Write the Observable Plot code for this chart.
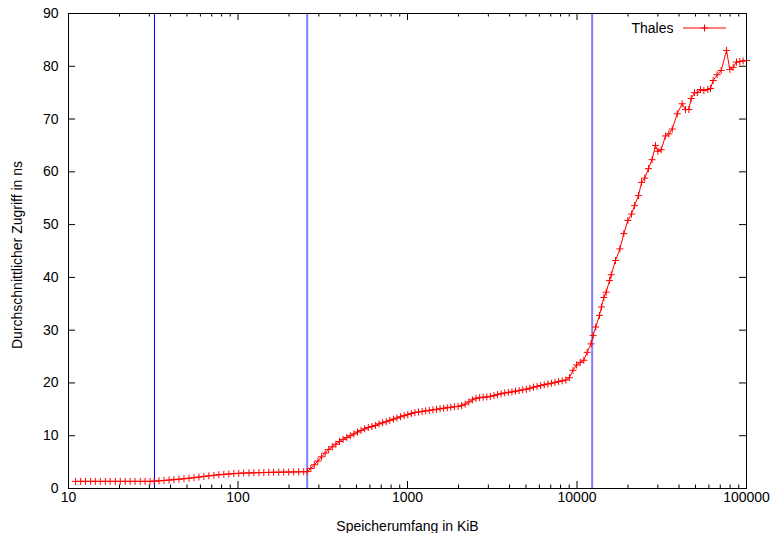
<!DOCTYPE html>
<html><head><meta charset="utf-8">
<script src="https://cdn.jsdelivr.net/npm/d3@7"></script>
<script src="https://cdn.jsdelivr.net/npm/@observablehq/plot@0.6"></script>
<style>html,body{margin:0;padding:0;background:#fff}</style>
</head><body><div id="chart"></div>
<script>
const seriesName = "Thales";
const xLabel = "Speicherumfang in KiB";
const yLabel = "Durchschnittlicher Zugriff in ns";

const sizeKiB = [
  11, 11.8, 12.6, 13.5, 14.4, 15.4, 16.5, 17.6, 18.9, 20.2, 21.6, 23.1, 24.7, 26.5, 28.3, 30.3, 32,
  34.2, 36.6, 39.2, 41.9, 44.9, 48, 51.4, 55, 58.8, 62.9, 67.3, 72.1, 77.1, 82.5, 88.3, 94.5, 101, 108, 116, 124,
  133, 142, 152, 162, 174, 186, 199, 213, 228, 244, 256,
  269, 282, 296, 311, 327, 343, 360, 378, 397, 417, 438, 460, 483, 507, 532, 559, 587, 616, 647, 679,
  713, 749, 786, 826, 867, 910, 956, 1004, 1054, 1106, 1162, 1220, 1281, 1345, 1412, 1483, 1557, 1635, 1716, 1802,
  1892, 1987, 2086, 2191, 2300, 2415, 2536, 2663, 2796, 2936, 3082, 3237, 3398, 3568, 3747, 3934, 4131, 4337, 4554, 4782,
  5021, 5272, 5536, 5812, 6103, 6408, 6729, 7065, 7418, 7789, 8179, 8588, 9017, 9468, 9941,
  10450, 10970, 11480, 12100, 12450, 12900, 13570, 13950, 14400, 14870, 15560, 15920, 16870, 17910, 18890, 19960, 20980, 21850, 23050, 24030,
  25100, 26400, 27730, 29040, 29970, 31380, 33270, 34830, 36470, 39020, 41720, 43650, 45700, 47190, 49370, 51200, 53540, 56040, 59110, 61340,
  63600, 67110, 70910, 76260, 79690, 83430, 87270, 91300, 95490, 100000
];
const accessNs = [
  1.35, 1.35, 1.35, 1.35, 1.35, 1.35, 1.35, 1.35, 1.35, 1.35, 1.35, 1.35, 1.35, 1.35, 1.35, 1.35, 1.4,
  1.45, 1.52, 1.60, 1.68, 1.76, 1.85, 1.95, 2.05, 2.17, 2.28, 2.40, 2.50, 2.60, 2.68, 2.75, 2.82, 2.88, 2.92, 2.95, 2.98,
  3.00, 3.03, 3.05, 3.07, 3.09, 3.10, 3.12, 3.14, 3.16, 3.18, 3.20,
  3.8, 4.5, 5.2, 6.0, 6.7, 7.4, 7.9, 8.4, 8.9, 9.3, 9.65, 10.0, 10.35, 10.7, 11.0, 11.3, 11.55, 11.75, 11.95, 12.25,
  12.45, 12.65, 12.9, 13.15, 13.35, 13.6, 13.8, 14.0, 14.2, 14.4, 14.5, 14.6, 14.7, 14.8, 14.9, 15.0, 15.1, 15.2, 15.3, 15.4,
  15.5, 15.55, 15.7, 16.0, 16.4, 16.8, 17.1, 17.2, 17.3, 17.35, 17.45, 17.6, 17.8, 17.95, 18.1, 18.2, 18.3, 18.45, 18.55, 18.7,
  18.8, 19.0, 19.2, 19.35, 19.5, 19.65, 19.8, 19.95, 20.1, 20.25, 20.4, 20.55, 21.0, 22.4, 23.4,
  23.9, 24.3, 25.8, 27.4, 29.0, 30.6, 32.8, 34.4, 36.2, 37.2, 39.4, 40.5, 43.2, 45.4, 48.3, 50.8, 52.0, 53.6, 55.5, 58.0,
  58.8, 60.6, 62.3, 65.0, 63.9, 64.2, 66.8, 67.2, 68.1, 71.0, 72.9, 71.8, 71.8, 73.9, 75.0, 75.0, 75.6, 75.4, 75.6, 75.8,
  77.3, 78.4, 79.2, 83.0, 79.4, 79.8, 80.8, 80.9, 81.0, 81.1
];

const boundaryL1 = [32];
const boundaryL2L3 = [256, 12288];

const xMajorTicks = [10, 100, 1000, 10000, 100000];
const xMinorTicks = [20,30,40,50,60,70,80,90, 200,300,400,500,600,700,800,900,
  2000,3000,4000,5000,6000,7000,8000,9000, 20000,30000,40000,50000,60000,70000,80000,90000];
const yTicks = [0, 10, 20, 30, 40, 50, 60, 70, 80, 90];

const data = sizeKiB.map((x, i) => ({x, y: accessNs[i]}));

const W = 771, H = 533, mL = 68, mR = 25, mT = 13, mB = 45;
const plotH = H - mT - mB, plotW = W - mL - mR;
const red = "#ff0000";
const font = "'Liberation Sans', Arial, Helvetica, sans-serif";

const thinPlus = {
  draw(ctx, size) {
    const r = Math.sqrt(size / Math.PI);
    ctx.moveTo(-r, 0); ctx.lineTo(r, 0);
    ctx.moveTo(0, -r); ctx.lineTo(0, r);
  }
};

function legendSample(index, scales, values, dims) {
  const x2 = dims.width - dims.marginRight - 20;
  const x1 = x2 - 43;
  const y = dims.marginTop + 15;
  const xm = (x1 + x2) / 2;
  const g = d3.create("svg:g");
  g.append("line").attr("x1", x1).attr("x2", x2).attr("y1", y).attr("y2", y)
    .attr("stroke", red).attr("stroke-width", 1);
  g.append("path").attr("d", `M${xm - 3.5},${y}h7M${xm},${y - 3.5}v7`)
    .attr("stroke", red).attr("stroke-width", 1).attr("fill", "none");
  return g.node();
}

const chart = Plot.plot({
  width: W, height: H,
  marginLeft: mL, marginRight: mR, marginTop: mT, marginBottom: mB,
  style: {fontFamily: font, fontSize: "14px", color: "#000", background: "#fff", overflow: "visible"},
  x: {type: "log", domain: [10, 100000]},
  y: {domain: [0, 90]},
  marks: [
    Plot.ruleX(boundaryL1, {x: d => d, stroke: "#0000ff", strokeWidth: 1, shapeRendering: "crispEdges"}),
    Plot.ruleX(boundaryL2L3, {x: d => d, stroke: "#7f7fff", strokeWidth: 2}),
    Plot.ruleX(xMajorTicks, {x: d => d, insetTop: plotH - 7, stroke: "#000"}),
    Plot.ruleX(xMajorTicks, {x: d => d, insetBottom: plotH - 7, stroke: "#000"}),
    Plot.ruleX(xMinorTicks, {x: d => d, insetTop: plotH - 3.5, stroke: "#000"}),
    Plot.ruleX(xMinorTicks, {x: d => d, insetBottom: plotH - 3.5, stroke: "#000"}),
    Plot.ruleY(yTicks, {y: d => d, insetRight: plotW - 7, stroke: "#000"}),
    Plot.ruleY(yTicks, {y: d => d, insetLeft: plotW - 7, stroke: "#000"}),
    Plot.axisX(xMajorTicks, {tickSize: 0, tickPadding: 4, tickFormat: d => String(d), label: null, fontSize: 14}),
    Plot.axisY(yTicks, {tickSize: 0, tickPadding: 10, label: null, fontSize: 14}),
    Plot.line(data, {x: "x", y: "y", stroke: red, strokeWidth: 1}),
    Plot.dot(data, {x: "x", y: "y", symbol: thinPlus, r: 3.5, stroke: red, strokeWidth: 1, fill: "none"}),
    Plot.frame({stroke: "#000", strokeWidth: 1}),
    Plot.text([yLabel], {frameAnchor: "left", rotate: -90, dx: -51, dy: 4, textAnchor: "middle", fontSize: 14, fill: "#000"}),
    Plot.text([xLabel], {frameAnchor: "bottom", dy: 38, lineAnchor: "middle", textAnchor: "middle", fontSize: 14, fill: "#000"}),
    Plot.text([seriesName], {frameAnchor: "top-right", dx: -73, dy: 15, textAnchor: "end", lineAnchor: "middle", fontSize: 14, fill: "#000"}),
    legendSample
  ]
});
document.getElementById("chart").appendChild(chart);
</script>
</body></html>
